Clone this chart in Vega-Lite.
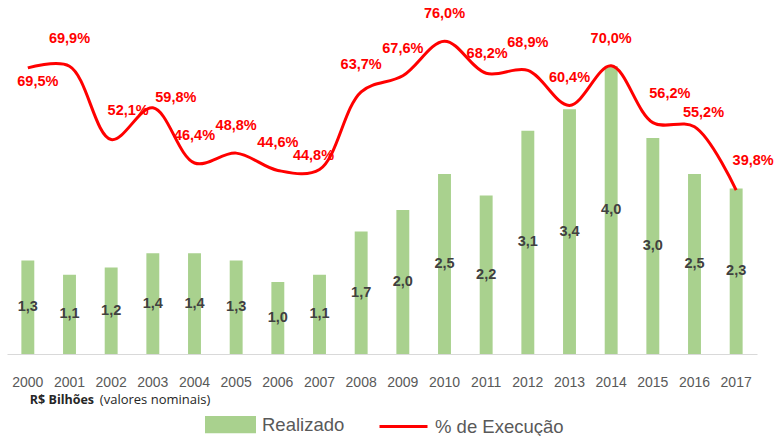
{
  "$schema": "https://vega.github.io/schema/vega-lite/v6.json",
  "width": 750,
  "height": 354,
  "padding": {"left": 7, "top": 0, "right": 17, "bottom": 0},
  "autosize": {"type": "pad"},
  "background": "white",
  "config": {
    "view": {"stroke": null},
    "locale": {"number": {"decimal": ",", "thousands": ".", "grouping": [3], "currency": ["R$", ""]}}
  },
  "data": {"values": [
    {"ano": "2000", "realizado": 1.3, "exec": 0.695},
    {"ano": "2001", "realizado": 1.1, "exec": 0.699},
    {"ano": "2002", "realizado": 1.2, "exec": 0.521},
    {"ano": "2003", "realizado": 1.4, "exec": 0.598},
    {"ano": "2004", "realizado": 1.4, "exec": 0.464},
    {"ano": "2005", "realizado": 1.3, "exec": 0.488},
    {"ano": "2006", "realizado": 1.0, "exec": 0.446},
    {"ano": "2007", "realizado": 1.1, "exec": 0.448},
    {"ano": "2008", "realizado": 1.7, "exec": 0.637},
    {"ano": "2009", "realizado": 2.0, "exec": 0.676},
    {"ano": "2010", "realizado": 2.5, "exec": 0.760},
    {"ano": "2011", "realizado": 2.2, "exec": 0.682},
    {"ano": "2012", "realizado": 3.1, "exec": 0.689},
    {"ano": "2013", "realizado": 3.4, "exec": 0.604},
    {"ano": "2014", "realizado": 4.0, "exec": 0.700},
    {"ano": "2015", "realizado": 3.0, "exec": 0.562},
    {"ano": "2016", "realizado": 2.5, "exec": 0.552},
    {"ano": "2017", "realizado": 2.3, "exec": 0.398}
  ]},
  "encoding": {
    "x": {
      "field": "ano", "type": "nominal", "sort": null,
      "scale": {"paddingInner": 0.69, "paddingOuter": 0.345},
      "axis": {
        "title": null, "labelAngle": 0, "ticks": false, "grid": false,
        "domain": true, "domainColor": "#d9d9d9", "domainWidth": 1,
        "labelFont": "Liberation Sans", "labelFontSize": 14, "labelColor": "#595959",
        "labelPadding": 21
      }
    }
  },
  "layer": [
    {
      "mark": {"type": "bar"},
      "encoding": {
        "y": {"field": "realizado", "type": "quantitative", "scale": {"domain": [0, 4.917], "nice": false}, "axis": null},
        "color": {
          "datum": "Realizado",
          "scale": {"domain": ["Realizado", "% de Execução"], "range": ["#a9d18e", "#ff0000"]},
          "legend": {
            "orient": "none", "legendX": 198, "legendY": 399, "direction": "horizontal", "title": null,
            "labelFont": "Liberation Sans", "labelFontSize": 18.5, "labelColor": "#595959",
            "columnPadding": 28, "labelOffset": 6, "symbolSize": 2304,
            "encode": {
              "symbols": {
                "update": {
                  "shape": {"signal": "datum.value === 'Realizado' ? 'M-1,-0.3H1V0.3H-1Z' : 'M-1,0H1'"},
                  "fill": {"signal": "datum.value === 'Realizado' ? '#a9d18e' : 'transparent'"},
                  "stroke": {"signal": "datum.value === 'Realizado' ? 'transparent' : '#ff0000'"},
                  "strokeWidth": {"value": 3},
                  "opacity": {"value": 1}
                }
              }
            }
          }
        }
      }
    },
    {
      "mark": {"type": "text", "font": "Liberation Sans", "fontSize": 14.5, "fontWeight": "bold", "color": "#404040", "baseline": "middle"},
      "encoding": {
        "y": {"field": "realizado", "type": "quantitative", "scale": {"domain": [0, 9.834], "nice": false}, "axis": null},
        "text": {"field": "realizado", "type": "quantitative", "format": ".1f"}
      }
    },
    {
      "mark": {"type": "line", "interpolate": "catmull-rom", "strokeWidth": 3},
      "encoding": {
        "y": {"field": "exec", "type": "quantitative", "scale": {"domain": [0, 0.86], "nice": false}, "axis": null},
        "color": {"datum": "% de Execução"}
      }
    },
    {
      "transform": [{"filter": {"field": "ano", "oneOf": ["2001", "2004", "2005", "2006", "2008", "2009", "2010", "2012", "2013", "2014"]}}],
      "mark": {"type": "text", "font": "Liberation Sans", "fontSize": 14.5, "fontWeight": "bold", "color": "#ff0000", "baseline": "middle", "dy": -27},
      "encoding": {
        "y": {"field": "exec", "type": "quantitative", "scale": {"domain": [0, 0.86], "nice": false}, "axis": null},
        "text": {"field": "exec", "type": "quantitative", "format": ".1%"}
      }
    },
    {
      "transform": [{"filter": {"field": "ano", "oneOf": ["2000"]}}],
      "mark": {"type": "text", "font": "Liberation Sans", "fontSize": 14.5, "fontWeight": "bold", "color": "#ff0000", "baseline": "middle", "dx": 10, "dy": 14},
      "encoding": {
        "y": {"field": "exec", "type": "quantitative", "scale": {"domain": [0, 0.86], "nice": false}, "axis": null},
        "text": {"field": "exec", "type": "quantitative", "format": ".1%"}
      }
    },
    {
      "transform": [{"filter": {"field": "ano", "oneOf": ["2002", "2015", "2017"]}}],
      "mark": {"type": "text", "font": "Liberation Sans", "fontSize": 14.5, "fontWeight": "bold", "color": "#ff0000", "baseline": "middle", "dx": 17, "dy": -29},
      "encoding": {
        "y": {"field": "exec", "type": "quantitative", "scale": {"domain": [0, 0.86], "nice": false}, "axis": null},
        "text": {"field": "exec", "type": "quantitative", "format": ".1%"}
      }
    },
    {
      "transform": [{"filter": {"field": "ano", "oneOf": ["2003"]}}],
      "mark": {"type": "text", "font": "Liberation Sans", "fontSize": 14.5, "fontWeight": "bold", "color": "#ff0000", "baseline": "middle", "dx": 23, "dy": -10},
      "encoding": {
        "y": {"field": "exec", "type": "quantitative", "scale": {"domain": [0, 0.86], "nice": false}, "axis": null},
        "text": {"field": "exec", "type": "quantitative", "format": ".1%"}
      }
    },
    {
      "transform": [{"filter": {"field": "ano", "oneOf": ["2007"]}}],
      "mark": {"type": "text", "font": "Liberation Sans", "fontSize": 14.5, "fontWeight": "bold", "color": "#ff0000", "baseline": "middle", "dx": -6, "dy": -14},
      "encoding": {
        "y": {"field": "exec", "type": "quantitative", "scale": {"domain": [0, 0.86], "nice": false}, "axis": null},
        "text": {"field": "exec", "type": "quantitative", "format": ".1%"}
      }
    },
    {
      "transform": [{"filter": {"field": "ano", "oneOf": ["2011"]}}],
      "mark": {"type": "text", "font": "Liberation Sans", "fontSize": 14.5, "fontWeight": "bold", "color": "#ff0000", "baseline": "middle", "dx": 1, "dy": -19},
      "encoding": {
        "y": {"field": "exec", "type": "quantitative", "scale": {"domain": [0, 0.86], "nice": false}, "axis": null},
        "text": {"field": "exec", "type": "quantitative", "format": ".1%"}
      }
    },
    {
      "transform": [{"filter": {"field": "ano", "oneOf": ["2016"]}}],
      "mark": {"type": "text", "font": "Liberation Sans", "fontSize": 14.5, "fontWeight": "bold", "color": "#ff0000", "baseline": "middle", "dx": 9, "dy": -14},
      "encoding": {
        "y": {"field": "exec", "type": "quantitative", "scale": {"domain": [0, 0.86], "nice": false}, "axis": null},
        "text": {"field": "exec", "type": "quantitative", "format": ".1%"}
      }
    },
    {
      "data": {"values": [{"t": "R$ Bilhões"}]},
      "mark": {"type": "text", "font": "Open Sans", "fontSize": 12.5, "fontWeight": "bold", "color": "#262626", "align": "left", "baseline": "middle", "dx": 2, "dy": 46},
      "encoding": {
        "x": {"datum": "2000"},
        "y": {"datum": 0, "type": "quantitative", "scale": {"domain": [0, 4.917], "nice": false}, "axis": null},
        "text": {"field": "t", "type": "nominal"}
      }
    },
    {
      "data": {"values": [{"t": "(valores nominais)"}]},
      "mark": {"type": "text", "font": "Open Sans", "fontSize": 13, "color": "#262626", "align": "left", "baseline": "middle", "dx": 72, "dy": 46},
      "encoding": {
        "x": {"datum": "2000"},
        "y": {"datum": 0, "type": "quantitative", "scale": {"domain": [0, 4.917], "nice": false}, "axis": null},
        "text": {"field": "t", "type": "nominal"}
      }
    }
  ],
  "resolve": {"scale": {"y": "independent"}}
}
